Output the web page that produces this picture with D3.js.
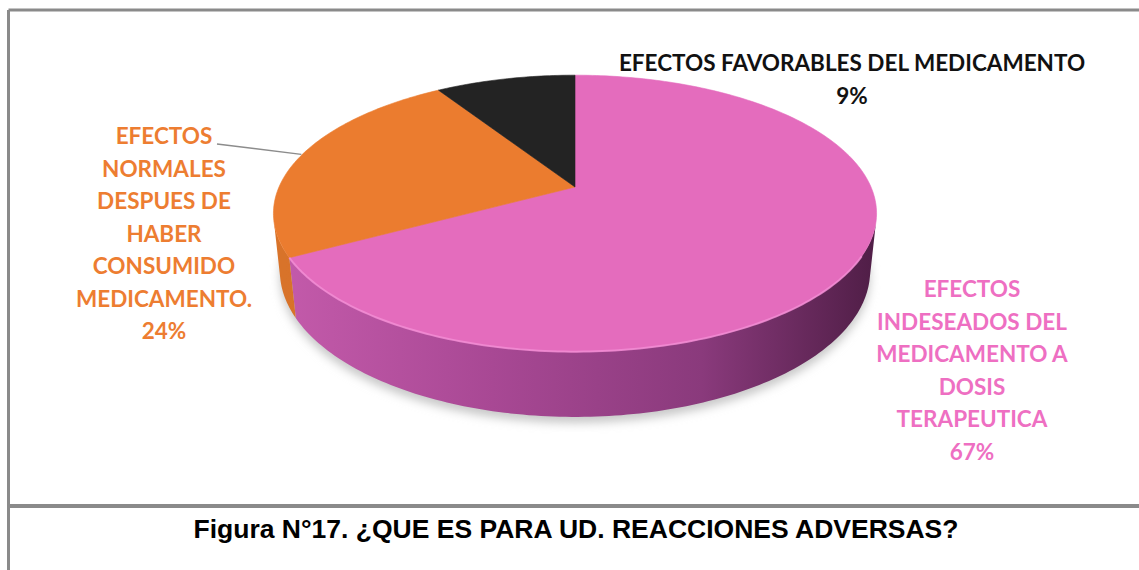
<!DOCTYPE html>
<html>
<head>
<meta charset="utf-8">
<style>
  body { margin: 0; background: #fff; }
  svg { display: block; }
</style>
</head>
<body>
<div id="chart"></div>
<script src="https://cdn.jsdelivr.net/npm/d3@7"></script>
<script>
  // slice values (percent)
  const categories = ['Indeseados', 'Normales', 'Favorables'];
  const values = [67, 24, 9];
  const labelLines = [
    ['EFECTOS', 'INDESEADOS DEL', 'MEDICAMENTO A', 'DOSIS', 'TERAPEUTICA'],
    ['EFECTOS', 'NORMALES', 'DESPUES DE', 'HABER', 'CONSUMIDO', 'MEDICAMENTO.'],
    ['EFECTOS FAVORABLES DEL MEDICAMENTO'],
  ];
  const caption = 'Figura N°17. ¿QUE ES PARA UD. REACCIONES ADVERSAS?';

  const topColors = ['#e46cbd', '#eb7c2f', '#232323'];
  const textColors = ['#ee6fc2', '#ed7d31', '#111111'];

  const width = 1139, height = 570;

  const svg = d3.select('#chart').append('svg')
    .attr('width', width)
    .attr('height', height);

  const defs = svg.append('defs');

  // 3d look: tilted disc seen in perspective
  const CX = 575, CY = 187;   // projected centre of the top face
  const F = 296;              // screen radius factor
  const S = 0.45, C = 0.893;  // sin / cos of the tilt
  const K = 0.214;            // radius / camera distance
  const H = 0.218;            // thickness / radius

  function project(a, depth, r) {
    if (r === undefined) r = 1;
    const x = r * Math.sin(a), z = -r * Math.cos(a), h = depth * H;
    const den = 1 + K * (h * S - z * C);
    return [CX + F * x / den, CY + F * (h * C + z * S) / den];
  }

  function arcPoints(a0, a1, depth) {
    const n = Math.max(2, Math.ceil(Math.abs(a1 - a0) / (Math.PI / 180)));
    return d3.range(n + 1).map((i) => project(a0 + (a1 - a0) * i / n, depth));
  }

  const line = d3.line();

  const pie = d3.pie().sort(null).startAngle(0).endAngle(2 * Math.PI);
  const arcs = pie(values);

  // the part of the side wall that faces the viewer
  const visLo = Math.acos(-K / C);
  const visHi = 2 * Math.PI - visLo;

  // gradients for the side walls
  const wallStops = [
    [['0%', '#c35aaa'], ['35%', '#a84894'], ['70%', '#8a3a7c'], ['100%', '#4e1d45']],
    [['0%', '#d8732a'], ['100%', '#b95d1c']],
    [['0%', '#111'], ['100%', '#111']],
  ];
  wallStops.forEach((stops, i) => {
    const g = defs.append('linearGradient')
      .attr('id', 'wall' + i)
      .attr('gradientUnits', 'userSpaceOnUse')
      .attr('x1', 285).attr('y1', 0).attr('x2', 880).attr('y2', 0);
    stops.forEach((s) => g.append('stop').attr('offset', s[0]).attr('stop-color', s[1]));
  });

  const shadow = defs.append('filter').attr('id', 'shadow')
    .attr('x', '-20%').attr('y', '-20%').attr('width', '140%').attr('height', '140%');
  shadow.append('feGaussianBlur').attr('stdDeviation', 5);

  // frame
  const frame = svg.append('g')
    .attr('stroke', '#8a8a8a')
    .attr('stroke-width', 3)
    .attr('fill', 'none');
  frame.append('line').attr('x1', 8.5).attr('y1', 10).attr('x2', width).attr('y2', 10);
  frame.append('line').attr('x1', 8.5).attr('y1', 10).attr('x2', 8.5).attr('y2', height);
  frame.append('line').attr('x1', 8.5).attr('y1', 506).attr('x2', width).attr('y2', 506)
    .attr('stroke-width', 4);

  const gPie = svg.append('g');

  // soft shadow under the pie
  gPie.append('path')
    .attr('d', line(arcPoints(0, 2 * Math.PI, 1)) + 'Z')
    .attr('transform', 'translate(0,6)')
    .attr('fill', '#c8c8c8')
    .attr('filter', 'url(#shadow)');

  // side walls
  arcs.forEach((d, i) => {
    const lo = Math.max(d.startAngle, visLo);
    const hi = Math.min(d.endAngle, visHi);
    if (hi <= lo) return;
    const pts = arcPoints(lo, hi, 0).concat(arcPoints(hi, lo, 1));
    gPie.append('path')
      .attr('d', line(pts) + 'Z')
      .attr('fill', 'url(#wall' + i + ')');
  });

  // top faces
  const centre = project(0, 0, 0);
  arcs.forEach((d, i) => {
    const pts = [centre].concat(arcPoints(d.startAngle, d.endAngle, 0));
    gPie.append('path')
      .attr('d', line(pts) + 'Z')
      .attr('fill', topColors[i])
      .attr('stroke', topColors[i])
      .attr('stroke-width', 0.6);
  });

  // light rim along the front edge
  gPie.append('path')
    .attr('d', line(arcPoints(visLo + 0.25, arcs[0].endAngle, 0)))
    .attr('fill', 'none')
    .attr('stroke', '#f48fd6')
    .attr('stroke-width', 2)
    .attr('stroke-opacity', 0.8);

  // labels
  const labelFont = 'Lato, "Open Sans", sans-serif';
  const labelSize = 22.5;
  const labelPos = [
    { x: 972, y: 297 },
    { x: 164, y: 144 },
    { x: 852, y: 71 },
  ];
  const step = 32.5;

  arcs.forEach((d, i) => {
    const lines = labelLines[i].concat([d3.format('.0f')(d.value) + '%']);
    const t = svg.append('text')
      .attr('text-anchor', 'middle')
      .attr('font-family', labelFont)
      .attr('font-weight', 'bold')
      .attr('font-size', labelSize)
      .attr('fill', textColors[i]);
    lines.forEach((l, j) => {
      t.append('tspan')
        .attr('x', labelPos[i].x)
        .attr('y', labelPos[i].y + j * step)
        .text(l);
    });
  });

  // leader line for the orange slice
  const mid = (arcs[1].startAngle + arcs[1].endAngle) / 2;
  const tip = project(mid, 0);
  svg.append('path')
    .attr('d', line([[217, 144], [tip[0], tip[1] - 1]]))
    .attr('fill', 'none')
    .attr('stroke', '#8c8c8c')
    .attr('stroke-width', 1.5);

  // caption
  svg.append('text')
    .attr('x', 576)
    .attr('y', 538)
    .attr('text-anchor', 'middle')
    .attr('font-family', '"Liberation Sans", Arial, sans-serif')
    .attr('font-weight', 'bold')
    .attr('font-size', 26.5)
    .attr('fill', '#000')
    .text(caption);
</script>
</body>
</html>
